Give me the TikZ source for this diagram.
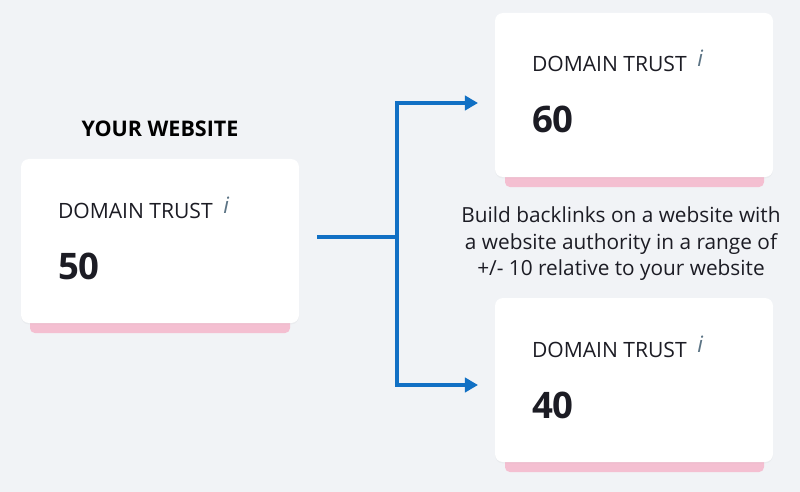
\documentclass[tikz,border=0pt]{standalone}
\usepackage{fontspec}
\setmainfont{Open Sans}
\usetikzlibrary{positioning,arrows.meta,shadows}

\definecolor{pagebg}{HTML}{F1F3F6}
\definecolor{linkblue}{HTML}{1170C4}
\definecolor{stripepink}{HTML}{F4BFD1}
\definecolor{infogrey}{HTML}{5B7384}
\definecolor{ink}{HTML}{1C1C24}

\tikzset{
  card/.style={fill=white, rounded corners=0.2cm, minimum width=6.95cm,
    minimum height=4.1cm, inner sep=0pt,
    drop shadow={opacity=0.06, shadow xshift=0pt, shadow yshift=-1pt}},
  stripe/.style={fill=stripepink, rounded corners=0.12cm},
  caption/.style={font=\fontsize{15}{18}\selectfont, text=ink, anchor=west, inner sep=0pt},
  score/.style={font=\fontsize{26}{30}\selectfont\bfseries, text=ink, anchor=west, inner sep=0pt},
  info/.style={font=\fontsize{16}{18}\selectfont\itshape, text=infogrey, inner sep=0pt},
  link/.style={linkblue, line width=2.8pt},
  linktip/.tip={Triangle[length=0.33cm, width=0.36cm]},
}

\begin{document}
\begin{tikzpicture}
\fill[pagebg] (0,0) rectangle (20,-12.3);
\useasboundingbox (0,0) rectangle (20,-12.3);

% your website
\fill[stripe] (0.75,-7.9) rectangle (7.25,-8.325);
\node[card] (your) at (4.0,-6.025) {};
\node[font=\fontsize{15.3}{18}\selectfont\bfseries, text=black, inner sep=0pt,
    above=0.55cm of your] (title) {YOUR WEBSITE};
\node[caption] (yourdt) at ([shift={(0.925,-1.3)}]your.north west) {DOMAIN TRUST};
\node[info, right=0.25cm of yourdt, yshift=0.14cm] (yourinfo) {i};
\node[score] (yourval) at ([shift={(0.925,-2.7)}]your.north west) {50};

% higher site
\fill[stripe] (12.625,-4.25) rectangle (19.1,-4.675);
\node[card] (high) at (15.85,-2.375) {};
\node[caption] (highdt) at ([shift={(0.925,-1.275)}]high.north west) {DOMAIN TRUST};
\node[info, right=0.25cm of highdt, yshift=0.14cm] (highinfo) {i};
\node[score] (highval) at ([shift={(0.925,-2.675)}]high.north west) {60};

% lower site
\fill[stripe] (12.625,-11.375) rectangle (19.1,-11.8);
\node[card] (low) at (15.85,-9.5) {};
\node[caption] (lowdt) at ([shift={(0.925,-1.3)}]low.north west) {DOMAIN TRUST};
\node[info, right=0.25cm of lowdt, yshift=0.14cm] (lowinfo) {i};
\node[score] (lowval) at ([shift={(0.925,-2.7)}]low.north west) {40};

\node[align=center, text=ink, font=\fontsize{14.8}{18.8}\selectfont, inner sep=0pt]
    (advice) at (15.525,-6.09)
    {Build backlinks on a website with\\a website authority in a range of\\+/- 10 relative to your website};

% connectors
\coordinate (fork) at (9.925,-5.925);
\coordinate (hightip) at (11.95,-2.575);
\coordinate (lowtip) at (11.95,-9.625);
\draw[link] ([xshift=0.45cm]your.east |- fork) -- (fork);
\draw[link, linktip-linktip] (hightip) -| (fork) |- (lowtip);
\end{tikzpicture}
\end{document}
